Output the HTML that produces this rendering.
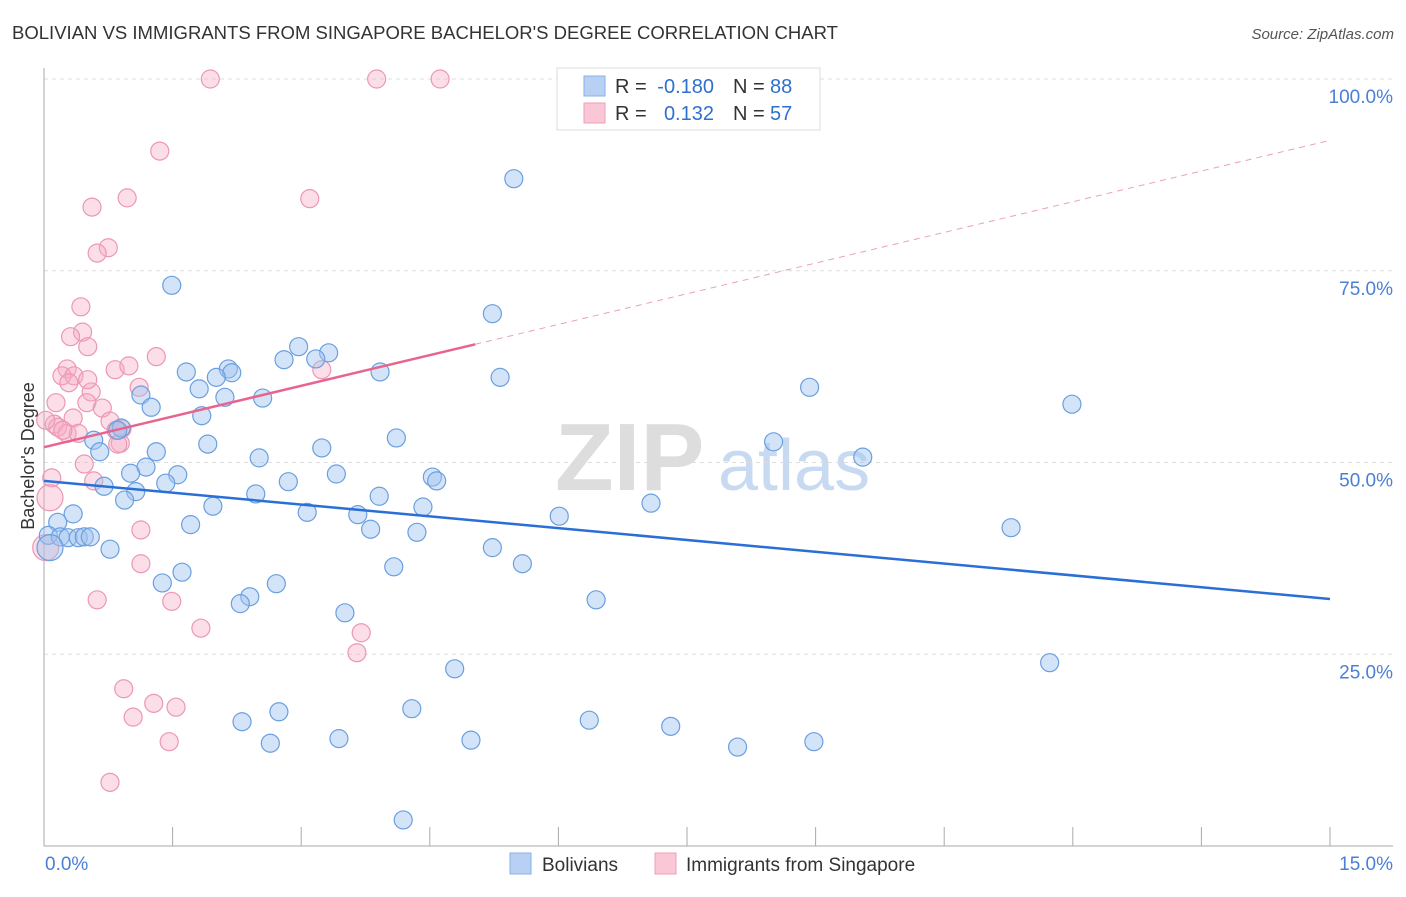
<!DOCTYPE html>
<html><head><meta charset="utf-8"><style>
body{margin:0;background:#fff;font-family:"Liberation Sans",sans-serif;}
svg text{font-family:"Liberation Sans",sans-serif;}
</style></head><body>
<svg width="1406" height="892" viewBox="0 0 1406 892" xmlns="http://www.w3.org/2000/svg">
<text x="12" y="39" font-size="18" fill="#333" textLength="826" lengthAdjust="spacingAndGlyphs">BOLIVIAN VS IMMIGRANTS FROM SINGAPORE BACHELOR'S DEGREE CORRELATION CHART</text>
<text x="1394" y="39" font-size="15" fill="#555" font-style="italic" text-anchor="end">Source: ZipAtlas.com</text>
<g>
<text x="555" y="490" font-size="96" fill="#ddd" font-family="Liberation Serif" font-weight="bold">ZIP</text>
<text x="718" y="490" font-size="72" fill="#c8daf2">atlas</text>
</g>
<g id="grid"></g>
<g id="axes"></g>
<g id="marks"></g>
<g id="lines"></g>
<text transform="translate(34,456) rotate(-90)" font-size="18" fill="#333" text-anchor="middle">Bachelor's Degree</text>
<g>
<rect x="557" y="68" width="263" height="62" fill="#fff" stroke="#ddd"/>
<rect x="584" y="76" width="21" height="20" fill="#b7d0f3" stroke="#8ab0e8"/>
<rect x="584" y="103" width="21" height="20" fill="#f9c7d6" stroke="#ee9fba"/>
<text x="615" y="93" font-size="20" fill="#333">R =</text>
<text x="714" y="93" font-size="20" fill="#2f6fd0" text-anchor="end">-0.180</text>
<text x="733" y="93" font-size="20" fill="#333">N =</text>
<text x="770" y="93" font-size="20" fill="#2f6fd0">88</text>
<text x="615" y="120" font-size="20" fill="#333">R =</text>
<text x="714" y="120" font-size="20" fill="#2f6fd0" text-anchor="end">0.132</text>
<text x="733" y="120" font-size="20" fill="#333">N =</text>
<text x="770" y="120" font-size="20" fill="#2f6fd0">57</text>
</g>
<g>
<rect x="510" y="853" width="21" height="21" fill="#b7d0f3" stroke="#8ab0e8"/>
<text x="542" y="871" font-size="19" fill="#333">Bolivians</text>
<rect x="655" y="853" width="21" height="21" fill="#f9c7d6" stroke="#ee9fba"/>
<text x="686" y="871" font-size="19" fill="#333">Immigrants from Singapore</text>
</g>
</svg>
<script>
const blueX=[5.48,1.49,5.23,2.97,3.32,2.80,3.17,1.66,2.15,2.19,2.01,3.92,5.32,1.81,2.11,2.55,1.13,1.25,1.84,8.93,11.99,0.90,0.86,4.11,0.58,1.91,0.65,1.31,3.24,8.51,2.51,1.19,9.55,1.01,1.56,3.41,1.42,4.53,4.58,0.70,2.85,1.07,3.91,2.47,0.94,4.42,1.97,7.08,3.07,3.66,6.01,0.16,0.34,1.71,3.81,4.35,11.28,0.05,0.19,0.28,0.40,0.47,0.54,0.77,5.23,5.58,4.08,1.61,1.38,2.71,2.40,2.29,6.44,3.51,4.79,11.73,4.29,2.74,2.31,6.36,7.31,3.44,4.98,2.64,8.09,8.98,4.19,0.07];
const blueY=[87.0,73.1,69.4,65.1,64.3,63.4,63.5,61.8,62.2,61.7,61.1,61.8,61.1,59.6,58.5,58.4,58.8,57.2,56.1,59.8,57.6,54.5,54.2,53.2,52.9,52.4,51.4,51.4,51.9,52.7,50.6,49.4,50.7,48.6,48.4,48.5,47.3,48.1,47.6,46.9,47.5,46.2,45.6,45.9,45.1,44.2,44.3,44.7,43.5,43.2,43.0,42.2,43.3,41.9,41.3,40.9,41.5,40.5,40.3,40.2,40.2,40.3,40.3,38.7,38.9,36.8,36.4,35.7,34.3,34.2,32.5,31.6,32.1,30.4,23.1,23.9,17.9,17.5,16.2,16.4,15.6,14.0,13.8,13.4,12.9,13.6,3.4,38.9];
const pinkX=[1.94,3.88,4.62,1.35,0.97,0.56,3.10,0.75,0.62,0.43,0.45,0.31,0.51,1.31,0.83,0.99,0.27,0.21,0.35,0.29,3.24,1.11,0.55,0.14,0.50,0.68,0.34,0.77,0.12,0.16,0.27,0.40,0.89,0.91,0.47,0.58,0.09,0.07,1.13,0.02,1.13,0.62,1.49,1.83,3.70,3.65,0.93,1.28,1.54,1.04,1.46,0.77,0.84,0.02,0.51,0.22,0.86];
const pinkY=[100,100,100,90.6,84.5,83.3,84.4,78.0,77.3,70.3,67.0,66.4,65.1,63.8,62.1,62.6,62.2,61.3,61.3,60.4,62.1,59.8,59.2,57.8,57.8,57.1,55.8,55.4,55.0,54.6,53.8,53.8,52.5,54.4,49.8,47.6,48.0,45.4,41.2,38.9,36.8,32.1,31.9,28.4,27.8,25.2,20.5,18.6,18.1,16.8,13.6,8.3,54.2,55.5,60.8,54.2,52.4];
const yTicks=[25,50,75,100];
const yTickLabels=["25.0%","50.0%","75.0%","100.0%"];
const blueTrend=[47.6,32.2];
const pinkTrend=[52.0,92.0];
const pinkSolidEnd=5.03;

const NS="http://www.w3.org/2000/svg";
const X0=44,X1=1330,Y0=846,Y100=79;
const sx=v=>X0+(X1-X0)*v/15;
const sy=v=>Y0-(Y0-Y100)*v/100;
function mk(tag,attrs,parent){const e=document.createElementNS(NS,tag);for(const k in attrs)e.setAttribute(k,attrs[k]);parent.appendChild(e);return e;}
const grid=document.getElementById('grid'),axes=document.getElementById('axes'),marks=document.getElementById('marks'),lines=document.getElementById('lines');
yTicks.forEach((t,i)=>{
  const l=mk('line',{x1:X0,x2:1393,y1:sy(t),y2:sy(t),stroke:'#ddd','stroke-dasharray':'4,4'},grid);
  
  
  const tx=mk('text',{x:1393,y:sy(t)+24,'font-size':19,fill:'#4a7fd4','text-anchor':'end'},axes);
  tx.textContent=yTickLabels[i];
  
  
});
mk('line',{x1:X0,x2:X0,y1:68,y2:Y0,stroke:'#aaa'},axes);
mk('line',{x1:X0,x2:1393,y1:Y0,y2:Y0,stroke:'#aaa'},axes);
for(let i=0;i<=10;i++){const t=mk('line',{x1:sx(i*1.5),x2:sx(i*1.5),y1:827,y2:Y0,stroke:'#aaa'},axes);
  
  }
const xl=mk('text',{x:45,y:870,'font-size':19,fill:'#4a7fd4'},axes);xl.textContent='0.0%';


const xr=mk('text',{x:1393,y:870,'font-size':19,fill:'#4a7fd4','text-anchor':'end'},axes);xr.textContent='15.0%';


function pts(X,Y,fill,stroke,name){X.forEach((x,i)=>{const big=(x<0.1&&(Y[i]===38.9||Y[i]===45.4));
  const c=mk('circle',{cx:sx(x),cy:sy(Y[i]),r:big?13:9,fill:fill,stroke:stroke,'stroke-width':1.2},marks);
  
  });}
pts(pinkX,pinkY,'rgba(246,172,198,0.4)','#ec97b4','point-singapore');
pts(blueX,blueY,'rgba(160,196,240,0.45)','#6a9fe0','point-bolivians');
const bl=mk('line',{x1:sx(0),y1:sy(blueTrend[0]),x2:sx(15),y2:sy(blueTrend[1]),stroke:'#2a6fd6','stroke-width':2.5},lines);


const pm=pinkTrend[0]+(pinkTrend[1]-pinkTrend[0])*pinkSolidEnd/15;
const pl=mk('line',{x1:sx(0),y1:sy(pinkTrend[0]),x2:sx(pinkSolidEnd),y2:sy(pm),stroke:'#e8648e','stroke-width':2.5},lines);


const pd=mk('line',{x1:sx(pinkSolidEnd),y1:sy(pm),x2:sx(15),y2:sy(pinkTrend[1]),stroke:'#eaa0b8','stroke-width':1,'stroke-dasharray':'6,5'},lines);


</script>
</body></html>
